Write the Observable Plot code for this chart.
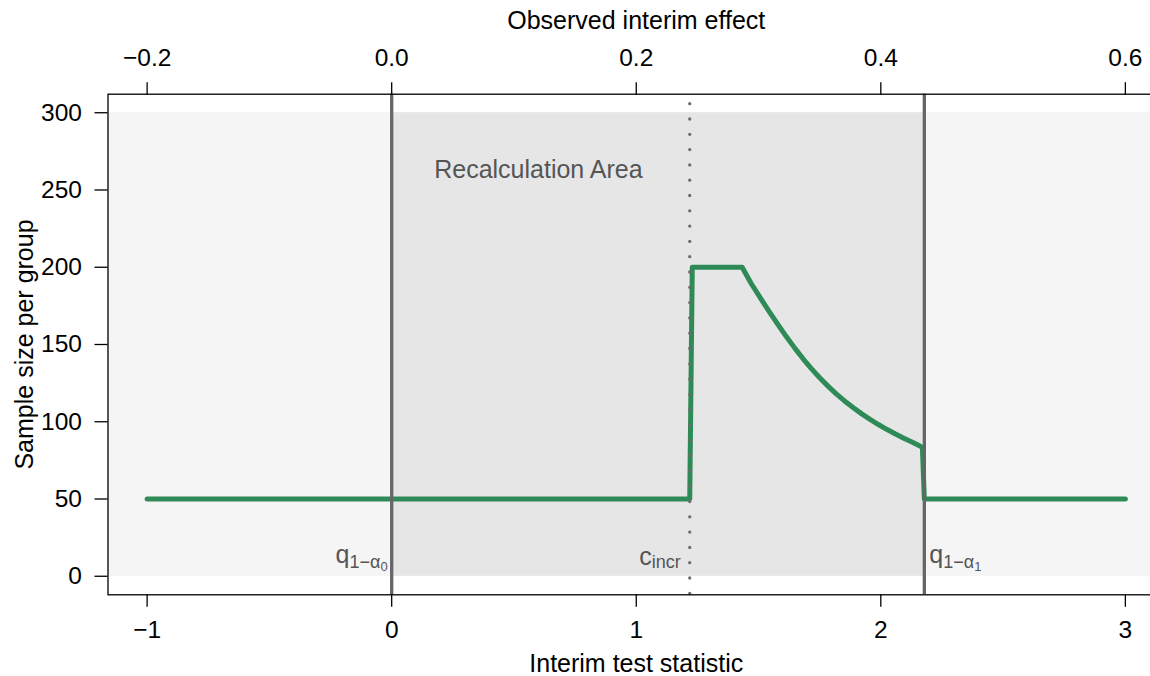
<!DOCTYPE html>
<html>
<head>
<meta charset="utf-8">
<script src="https://cdn.jsdelivr.net/npm/d3@7"></script>
<script src="https://cdn.jsdelivr.net/npm/@observablehq/plot@0.6"></script>
<style>
  html, body { margin: 0; padding: 0; background: #fff; }
  #chart svg { display: block; }
</style>
</head>
<body>
<div id="chart"></div>
<script>
// ---- data ----
const zValues = [-1, 1.2187, 1.229, 1.433, 1.47, 1.512, 1.545, 1.581, 1.615, 1.649, 1.683, 1.717, 1.751, 1.785, 1.819, 1.853, 1.888, 1.922, 1.956, 1.990, 2.024, 2.058, 2.092, 2.125, 2.150, 2.170, 2.178, 3];
const nValues = [50, 50, 200, 200, 189.5, 179, 171, 162.5, 154.8, 147.5, 140.6, 134.2, 128.3, 122.9, 117.9, 113.3, 109.0, 105.1, 101.5, 98.2, 95.1, 92.2, 89.5, 87.0, 85.1, 83.4, 50, 50];
const recalcStart = 0;
const cIncr = 1.2187;
const q1 = 2.178;
const bgRange = [0, 300];
const xTicks = [-1, 0, 1, 2, 3];
const xTickLabels = ["\u22121", "0", "1", "2", "3"];
const topTickLabels = ["\u22120.2", "0.0", "0.2", "0.4", "0.6"];
const yTicks = [0, 50, 100, 150, 200, 250, 300];
const thresholdLabels = ["q1-a0", "cincr", "q1-a1"];
const areaLabel = "Recalculation Area";
const xTitle = "Interim test statistic";
const topTitle = "Observed interim effect";
const yTitle = "Sample size per group";

const font = "'Liberation Sans', Arial, Helvetica, sans-serif";
const labelColor = "#555555";

const plot = Plot.plot({
  width: 1150,
  height: 676,
  marginLeft: 107.5,
  marginRight: -14,
  marginTop: 93.7,
  marginBottom: 81.7,
  style: { fontFamily: font, fontSize: "24.5px", color: "#000", background: "#fff", overflow: "hidden" },
  x: { domain: [-1.16, 3.16] },
  y: { domain: [-12, 312] },
  marks: [
    // background areas
    Plot.rect([bgRange], { y1: d => d[0], y2: d => d[1], fill: "#F5F5F5" }),
    Plot.rect([bgRange], { x1: () => recalcStart, x2: () => q1, y1: d => d[0], y2: d => d[1], fill: "#E6E6E6" }),
    // sample size curve
    Plot.line(nValues, { x: zValues, y: nValues, stroke: "#2E8B57", strokeWidth: 5, strokeLinejoin: "round", strokeLinecap: "round" }),
    // thresholds
    Plot.ruleX([recalcStart, q1], { stroke: "#666666", strokeWidth: 3.3 }),
    Plot.ruleX([cIncr], { stroke: "#6b6b6b", strokeWidth: 3.3, strokeDasharray: "0,15.3", strokeLinecap: "round", strokeDashoffset: -10 }),
    // labels
    Plot.text([thresholdLabels[0]], { x: () => recalcStart, y: () => 0, text: d => d, textAnchor: "end", lineAnchor: "bottom", dx: -4, dy: -13, fill: labelColor, fontSize: 25 }),
    Plot.text([thresholdLabels[1]], { x: () => cIncr, y: () => 0, text: d => d, textAnchor: "end", lineAnchor: "bottom", dx: -9, dy: -11, fill: labelColor, fontSize: 25 }),
    Plot.text([thresholdLabels[2]], { x: () => q1, y: () => 0, text: d => d, textAnchor: "start", lineAnchor: "bottom", dx: 5, dy: -13, fill: labelColor, fontSize: 25 }),
    Plot.text([areaLabel], { x: () => 0.6, y: () => 258, text: d => d, textAnchor: "middle", lineAnchor: "bottom", fill: labelColor, fontSize: 25 }),
    // frame
    Plot.frame({ stroke: "#000", strokeWidth: 1.3 }),
    // axes
    Plot.axisX(xTicks, { anchor: "bottom", tickSize: 12.5, tickPadding: 13, tickFormat: d => xTickLabels[xTicks.indexOf(d)], label: null, strokeWidth: 1.3 }),
    Plot.axisX(xTicks, { anchor: "top", tickSize: 12.5, tickPadding: 16, tickFormat: d => topTickLabels[xTicks.indexOf(d)], label: null, strokeWidth: 1.3 }),
    Plot.axisY(yTicks, { anchor: "left", tickSize: 13, tickPadding: 13, tickFormat: d => String(d), label: null, strokeWidth: 1.3 }),
    // titles
    Plot.text([xTitle], { frameAnchor: "bottom", text: d => d, textAnchor: "middle", lineAnchor: "bottom", dy: 77, fontSize: 25, fill: "#000" }),
    Plot.text([topTitle], { frameAnchor: "top", text: d => d, textAnchor: "middle", lineAnchor: "bottom", dy: -65, fontSize: 25, fill: "#000" }),
    Plot.text([yTitle], { frameAnchor: "left", text: d => d, textAnchor: "middle", lineAnchor: "bottom", rotate: -90, dx: -75, fontSize: 25, fill: "#000" })
  ]
});

// rich-text labels with subscripts
const subs = {
  "q1-a0": [["q", 25, 0], ["1\u2212\u03b1", 18, 5], ["0", 13, 3]],
  "q1-a1": [["q", 25, 0], ["1\u2212\u03b1", 18, 5], ["1", 13, 3]],
  "cincr": [["c", 25, 0], ["incr", 18, 3]]
};
plot.querySelectorAll("text").forEach(t => {
  const key = t.textContent;
  if (subs[key]) {
    while (t.firstChild) t.removeChild(t.firstChild);
    for (const [s, size, dy] of subs[key]) {
      const ts = document.createElementNS("http://www.w3.org/2000/svg", "tspan");
      ts.textContent = s;
      ts.setAttribute("font-size", size);
      if (dy) ts.setAttribute("dy", dy);
      t.appendChild(ts);
    }
  }
});

document.getElementById("chart").appendChild(plot);
</script>
</body>
</html>
